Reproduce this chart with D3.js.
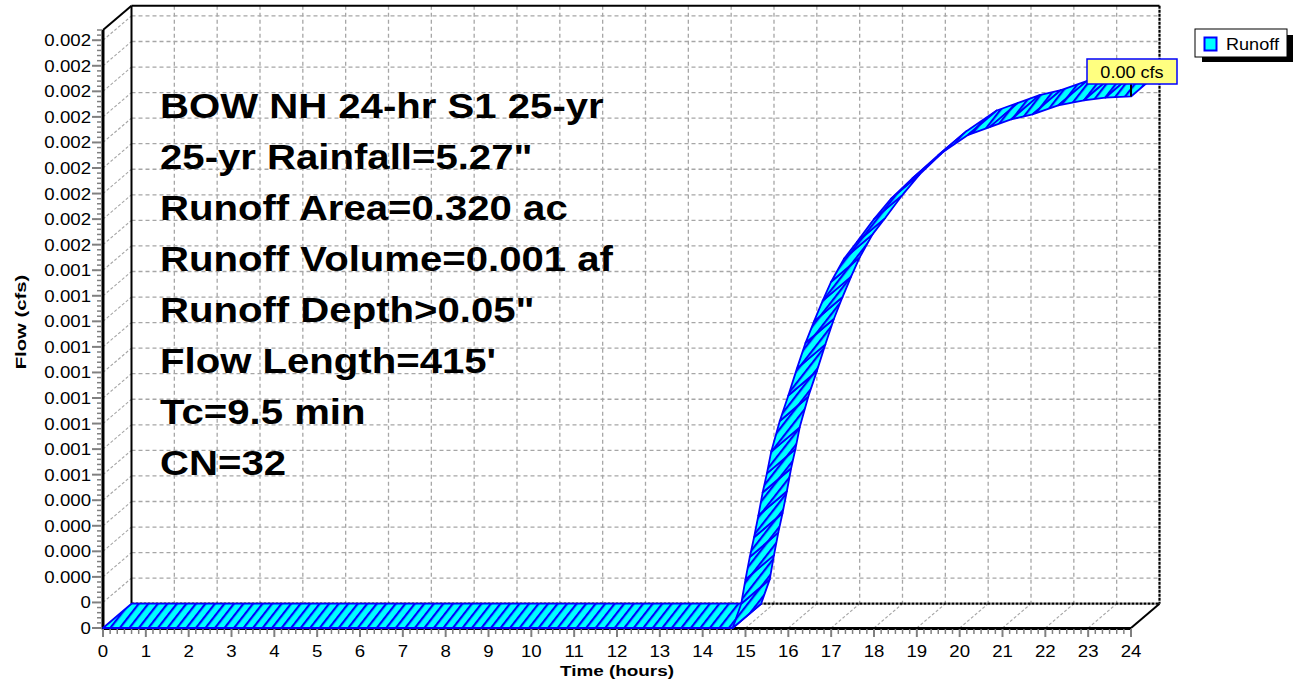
<!DOCTYPE html>
<html lang="en">
<head>
<meta charset="UTF-8">
<title>Runoff hydrograph</title>
<script src="https://d3js.org/d3.v7.min.js"></script>
<style>
  body { margin: 0; background: #fff; }
  text { font-family: "Liberation Sans", Arial, sans-serif; }
</style>
</head>
<body>
<div id="chart"></div>
<script>
var hours = [0, 14.70, 14.90, 15.00, 15.10, 15.20, 15.30, 15.40, 15.50, 15.60, 15.80, 16.00,
    16.20, 16.40, 16.60, 16.80, 17.00, 17.30, 17.60, 18.00, 18.40, 18.90, 19.50, 20.20,
    20.70, 21.20, 21.70, 22.30, 22.90, 23.40, 24.00];
var runoffCfs = [0, 0, 0.000095, 0.000190, 0.000278, 0.000355, 0.000440, 0.000530, 0.000605,
    0.000690, 0.000810, 0.000910, 0.001015, 0.001115, 0.001200, 0.001280, 0.001355, 0.001445,
    0.001510, 0.001600, 0.001680, 0.001760, 0.001850, 0.001930, 0.001960, 0.001990, 0.002010,
    0.002045, 0.002065, 0.002075, 0.002080];

var yTickValues = [0, 0.0001, 0.0002, 0.0003, 0.0004, 0.0005, 0.0006, 0.0007, 0.0008, 0.0009,
    0.0010, 0.0011, 0.0012, 0.0013, 0.0014, 0.0015, 0.0016, 0.0017, 0.0018, 0.0019, 0.0020,
    0.0021, 0.0022, 0.0023];
var yTickLabels = ["0", "0", "0.000", "0.000", "0.000", "0.000", "0.001", "0.001", "0.001",
    "0.001", "0.001", "0.001", "0.001", "0.001", "0.001", "0.002", "0.002", "0.002", "0.002",
    "0.002", "0.002", "0.002", "0.002", "0.002"];
var xTickValues = [0, 1, 2, 3, 4, 5, 6, 7, 8, 9, 10, 11, 12, 13, 14, 15, 16, 17, 18, 19, 20,
    21, 22, 23, 24];

var infoLines = ["BOW NH 24-hr S1 25-yr", "25-yr Rainfall=5.27\"", "Runoff Area=0.320 ac",
    "Runoff Volume=0.001 af", "Runoff Depth>0.05\"", "Flow Length=415'", "Tc=9.5 min", "CN=32"];
var seriesName = "Runoff";
var peakLabel = "0.00 cfs";
var xTitle = "Time  (hours)";
var yTitle = "Flow  (cfs)";

// ---- layout ----
var W = 1294, H = 683;
var depth = { dx: 28.5, dy: -24.3 };
var cyan = "#00ffff", blue = "#0000ff", gridGrey = "#a6a6a6", tickGrey = "#808080";
var stretch = 1.13;

var x = d3.scaleLinear().domain([0, 24]).range([103, 1131]);
var y = d3.scaleLinear().domain([0, 0.00234]).range([628, 30]);

var svg = d3.select("#chart").append("svg")
    .attr("width", W)
    .attr("height", H);

var defs = svg.append("defs");
var hatch = defs.append("pattern")
    .attr("id", "hatch")
    .attr("patternUnits", "userSpaceOnUse")
    .attr("width", 7.5)
    .attr("height", 10)
    .attr("patternTransform", "rotate(38)");
hatch.append("rect").attr("width", 7.5).attr("height", 10).attr("fill", cyan);
hatch.append("line")
    .attr("x1", 1).attr("y1", -1).attr("x2", 1).attr("y2", 11)
    .attr("stroke", blue).attr("stroke-width", 2.3);

function seg(g, x1, y1, x2, y2, color, width, dash) {
    var l = g.append("line")
        .attr("x1", x1).attr("y1", y1).attr("x2", x2).attr("y2", y2)
        .attr("stroke", color).attr("stroke-width", width);
    if (dash) l.attr("stroke-dasharray", dash);
    return l;
}

function label(g, px, py, str, size, anchor, bold, sx) {
    return g.append("text")
        .attr("transform", "translate(" + px + "," + py + ") scale(" + (sx || stretch) + ",1)")
        .attr("text-anchor", anchor)
        .attr("font-size", size)
        .attr("font-weight", bold ? "bold" : "normal")
        .attr("fill", "#000")
        .text(str);
}

var yTop = y.domain()[1];
var grid = svg.append("g");

// back wall grid
xTickValues.slice(1, -1).forEach(function (h) {
    seg(grid, x(h) + depth.dx, y(yTop) + depth.dy, x(h) + depth.dx, y(0) + depth.dy, gridGrey, 1.3, "4,3");
});
yTickValues.slice(1).forEach(function (v) {
    seg(grid, x(0) + depth.dx, y(v) + depth.dy, x(24) + depth.dx, y(v) + depth.dy, gridGrey, 1.3, "4,3");
    // side wall
    seg(grid, x(0), y(v), x(0) + depth.dx, y(v) + depth.dy, gridGrey, 1.1, "3,2");
});
// floor
xTickValues.slice(1, -1).forEach(function (h) {
    seg(grid, x(h), y(0), x(h) + depth.dx, y(0) + depth.dy, gridGrey, 1.1, "3,2");
});

// box frame
var frame = svg.append("g");
seg(frame, x(0) + depth.dx, y(yTop) + depth.dy, x(0) + depth.dx, y(0) + depth.dy, "#000", 2);
seg(frame, x(0) + depth.dx, y(yTop) + depth.dy, x(24) + depth.dx, y(yTop) + depth.dy, "#000", 2);
seg(frame, x(24) + depth.dx, y(yTop) + depth.dy, x(24) + depth.dx, y(0) + depth.dy, "#000", 2.2, "3,1");
seg(frame, x(0) + depth.dx, y(0) + depth.dy, x(24) + depth.dx, y(0) + depth.dy, "#000", 2.2, "3,1");
seg(frame, x(0), y(yTop), x(0) + depth.dx, y(yTop) + depth.dy, "#000", 2);
seg(frame, x(24), y(0), x(24) + depth.dx, y(0) + depth.dy, "#000", 2);

// axes
var axes = svg.append("g");
seg(axes, x(0), y(yTop), x(0), y(0) + 1.5, "#000", 3);
seg(axes, x(0), y(0) + 0.5, x(24), y(0) + 0.5, "#000", 3);

yTickValues.forEach(function (v, i) {
    seg(axes, x(0) - 11, y(v), x(0) - 1, y(v), tickGrey, 2);
    label(axes, x(0) - 12, y(v) + 6, yTickLabels[i], 16.5, "end", false);
    if (i < yTickValues.length - 1) {
        var step = (yTickValues[i + 1] - v) / 5;
        for (var k = 1; k < 5; k++) {
            seg(axes, x(0) - 6, y(v + k * step), x(0) - 1, y(v + k * step), tickGrey, 1.5);
        }
    }
});
// minor ticks above the last label up to the top of the axis
for (var k = 1; k * 0.00002 + 0.0023 <= yTop; k++) {
    seg(axes, x(0) - 6, y(0.0023 + k * 0.00002), x(0) - 1, y(0.0023 + k * 0.00002), tickGrey, 1.5);
}

xTickValues.forEach(function (h, i) {
    seg(axes, x(h), y(0) + 1, x(h), y(0) + 9, tickGrey, 2);
    label(axes, x(h), 657, String(h), 16.5, "middle", false);
    if (i < xTickValues.length - 1) {
        for (var k = 1; k < 6; k++) {
            seg(axes, x(h + k / 6), y(0) + 1, x(h + k / 6), y(0) + 6, tickGrey, 1.5);
        }
    }
});

label(svg, (x(0) + x(24)) / 2, 676, xTitle, 15.5, "middle", true, 1.22);
svg.append("text")
    .attr("transform", "translate(26,322) rotate(-90) scale(1.45,1)")
    .attr("text-anchor", "middle")
    .attr("font-size", 14)
    .attr("font-weight", "bold")
    .text(yTitle);

// ribbon (front curve and its copy pushed back by the chart depth)
var pts = hours.map(function (h, i) { return [x(h), y(runoffCfs[i])]; });
var ribbon = svg.append("g");
var polyLine = d3.line();
for (var i = 0; i < pts.length - 1; i++) {
    var a = pts[i], b = pts[i + 1];
    var quad = [a, b, [b[0] + depth.dx, b[1] + depth.dy], [a[0] + depth.dx, a[1] + depth.dy]];
    ribbon.append("path")
        .attr("d", polyLine(quad) + "Z")
        .attr("fill", "url(#hatch)")
        .attr("stroke", blue)
        .attr("stroke-width", 1.8)
        .attr("stroke-linejoin", "round");
}

// info text
var info = svg.append("g");
infoLines.forEach(function (s, i) {
    label(info, 160, 118 + i * 51, s, 36, "start", true, 1.115);
});

// peak label
var last = pts[pts.length - 1];
seg(svg, last[0], 84, last[0], last[1], "#000", 2);
svg.append("rect")
    .attr("x", last[0] - 44).attr("y", 59).attr("width", 90).attr("height", 25)
    .attr("fill", "#ffff80").attr("stroke", blue).attr("stroke-width", 1.5);
label(svg, last[0] + 1, 78, peakLabel, 16, "middle", false);

// legend
var legend = svg.append("g");
legend.append("rect").attr("x", 1202).attr("y", 35).attr("width", 91).attr("height", 27).attr("fill", "#000");
legend.append("rect").attr("x", 1195).attr("y", 29).attr("width", 92).attr("height", 28)
    .attr("fill", "#fff").attr("stroke", "#000").attr("stroke-width", 1);
legend.append("rect").attr("x", 1204.5).attr("y", 37.5).attr("width", 12).attr("height", 13)
    .attr("fill", cyan).attr("stroke", blue).attr("stroke-width", 2);
label(legend, 1226, 50, seriesName, 16, "start", false);
</script>
</body>
</html>
